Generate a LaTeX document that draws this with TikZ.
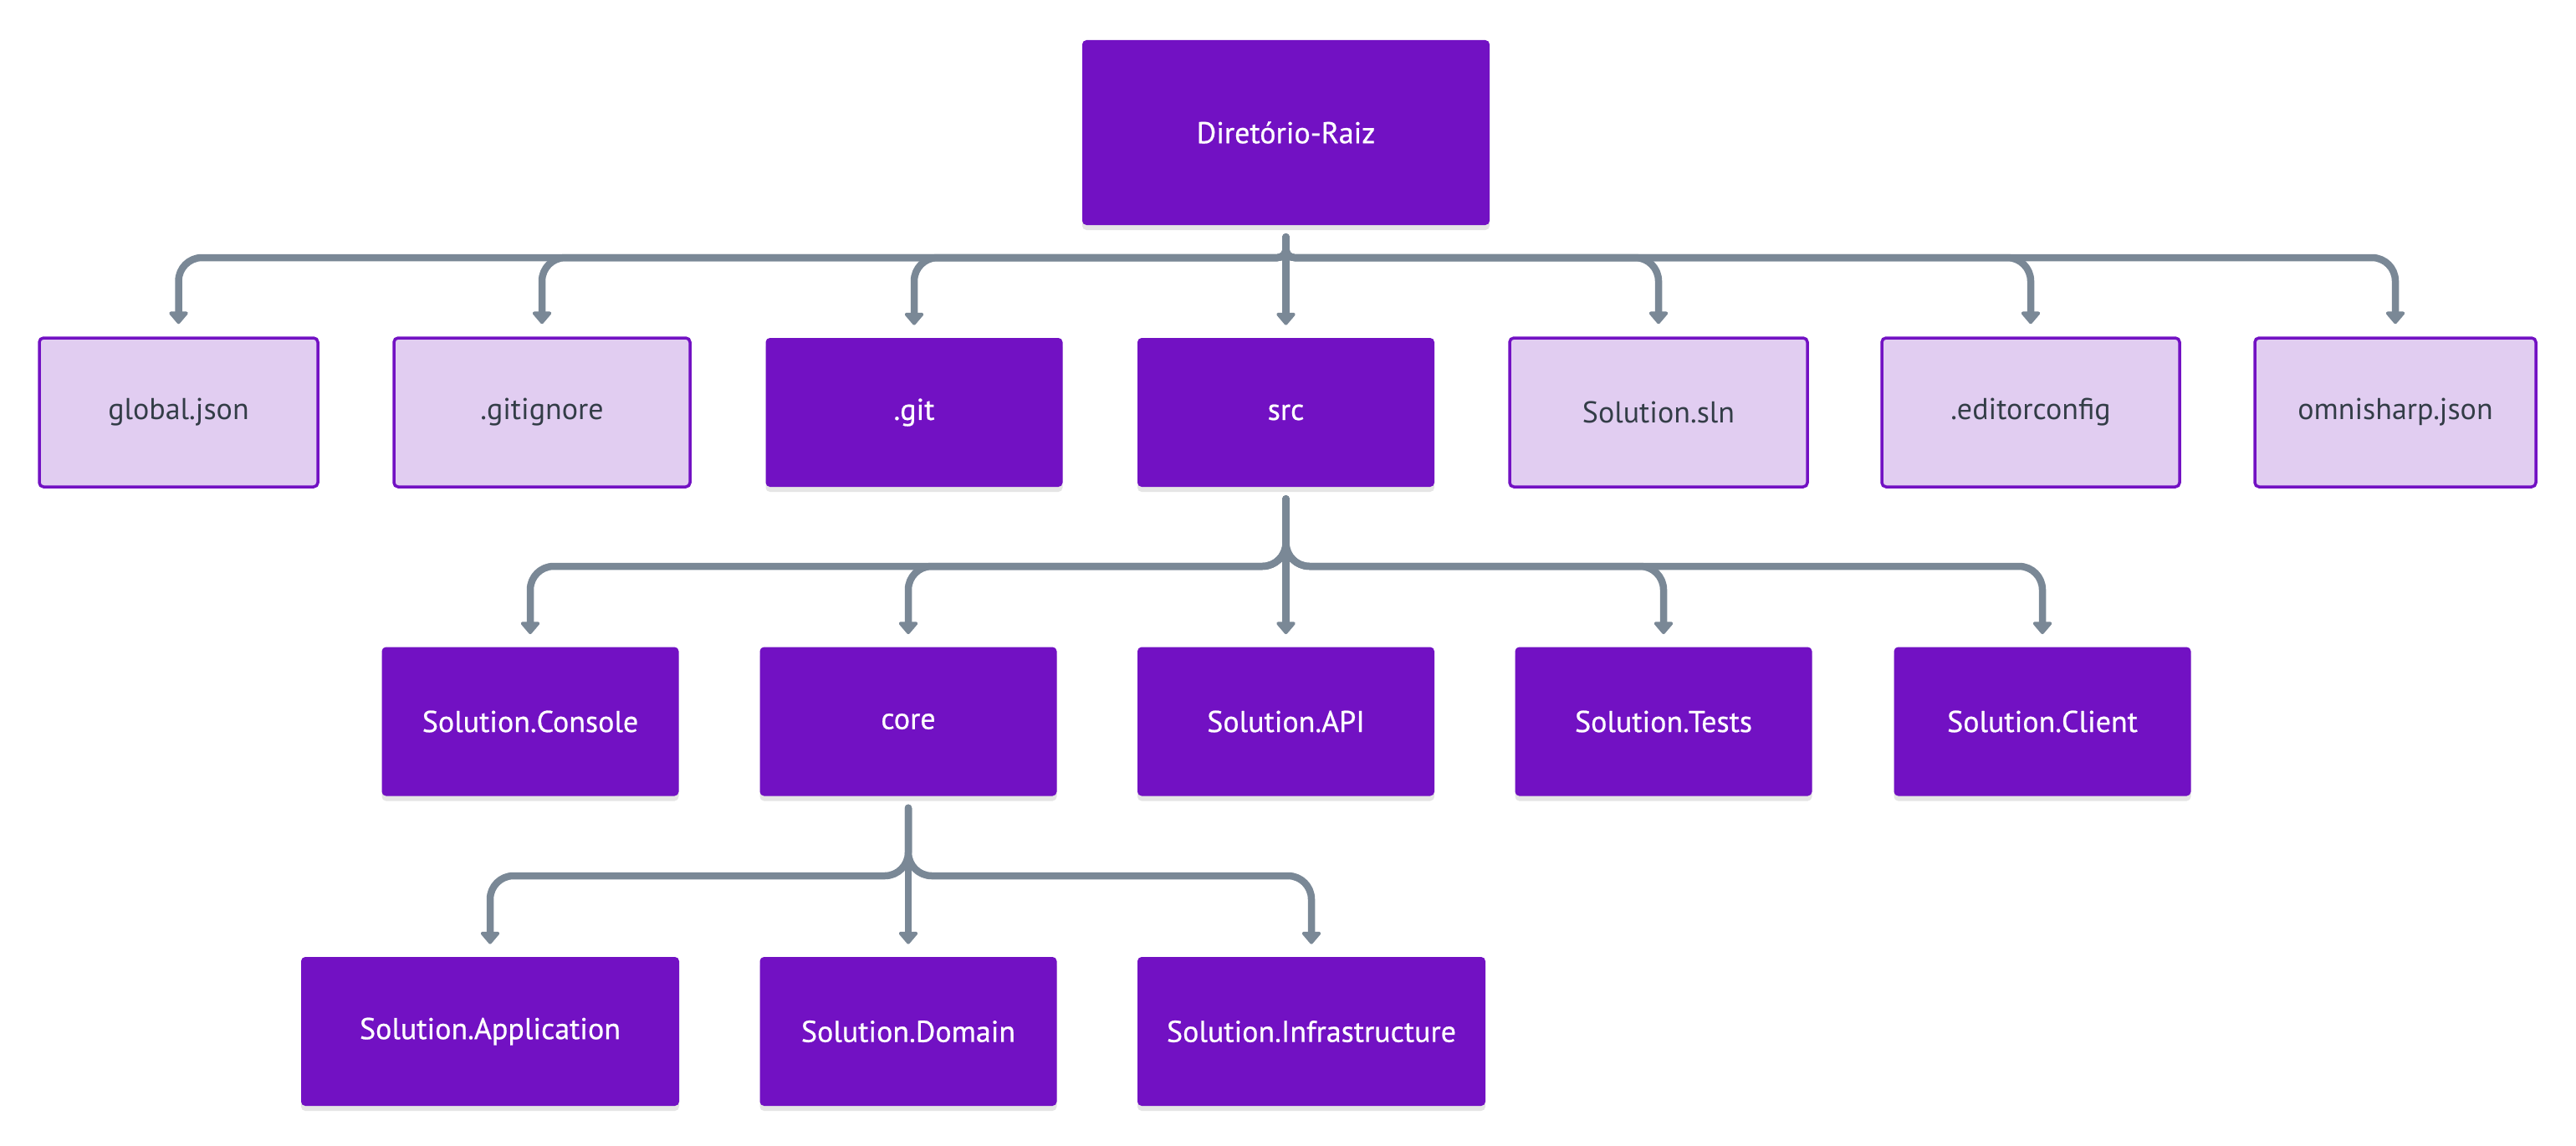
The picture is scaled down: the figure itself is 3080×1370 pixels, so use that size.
\documentclass[tikz,border=0pt]{standalone}
\usepackage{fontspec}
\setmainfont{PT Sans}
\newfontfamily\medfont{PT Sans}[FakeBold=0.6]
\usetikzlibrary{arrows.meta,shadows}
\definecolor{dpurple}{HTML}{7211C3}
\definecolor{lpurple}{HTML}{E1CDF1}
\definecolor{conncol}{HTML}{7A8896}
\definecolor{darktext}{HTML}{333D47}
\tikzset{
  box/.style={rectangle, rounded corners=2.5pt, minimum height=89pt, inner sep=0pt},
  darkbox/.style={box, fill=dpurple, text=white, font=\medfont\fontsize{18}{20}\selectfont,
    drop shadow={shadow xshift=0pt, shadow yshift=-3pt, opacity=0.10, fill=black}},
  lightbox/.style={box, fill=lpurple, draw=dpurple, line width=1.75pt, text=darktext,
    font=\fontsize{18}{20}\selectfont},
  conn/.style={draw=conncol, line width=4.25pt, line cap=round, line join=round,
    -{Triangle[length=8pt,width=13pt,round]}, shorten <=7pt, shorten >=7.5pt},
}
\begin{document}
\begin{tikzpicture}[x=0.5pt,y=-0.5pt]
\useasboundingbox (0,0) rectangle (3080,1370);
% root
\node[darkbox, minimum width=243.5pt, minimum height=110.5pt] (root) at (1537.5,158.5) {Diretório-Raiz};
% row 2
\node[lightbox, minimum width=166.5pt] (glob) at (213.5,493) {global.json};
\node[lightbox, minimum width=177pt] (gign) at (648,493) {.gitignore};
\node[darkbox, minimum width=177.5pt] (git) at (1093,493) {.git};
\node[darkbox, minimum width=177.5pt] (src) at (1537.5,493) {src};
\node[lightbox, minimum width=178pt] (sln) at (1983,493) {Solution.sln};
\node[lightbox, minimum width=178pt] (edit) at (2428,493) {.editorconfig};
\node[lightbox, minimum width=168pt] (omni) at (2864,493) {omnisharp.json};
% row 3
\node[darkbox, minimum width=177.5pt] (cons) at (634,862.5) {Solution.Console};
\node[darkbox, minimum width=177.5pt] (core) at (1086,862.5) {core};
\node[darkbox, minimum width=177.5pt] (api) at (1537.5,862.5) {Solution.API};
\node[darkbox, minimum width=177.5pt] (tests) at (1989,862.5) {Solution.Tests};
\node[darkbox, minimum width=177.5pt] (client) at (2442,862.5) {Solution.Client};
% row 4
\node[darkbox, minimum width=226pt] (app) at (586,1233) {Solution.Application};
\node[darkbox, minimum width=177.5pt] (dom) at (1086,1233) {Solution.Domain};
\node[darkbox, minimum width=208pt] (infra) at (1568,1233) {Solution.Infrastructure};
% connectors level 1
\foreach \c in {glob,gign,git,sln,edit,omni}{
  \draw[conn] (root.south) [rounded corners=5pt] -- (root.south |- 0,308)
    [rounded corners=14pt] -| (\c.north);
}
\draw[conn] (root.south) -- (src.north);
% connectors level 2
\foreach \c in {cons,core,tests,client}{
  \draw[conn, rounded corners=14pt] (src.south) -- (src.south |- 0,677) -| (\c.north);
}
\draw[conn] (src.south) -- (api.north);
% connectors level 3
\foreach \c in {app,infra}{
  \draw[conn, rounded corners=14pt] (core.south) -- (core.south |- 0,1047) -| (\c.north);
}
\draw[conn] (core.south) -- (dom.north);
\end{tikzpicture}
\end{document}
